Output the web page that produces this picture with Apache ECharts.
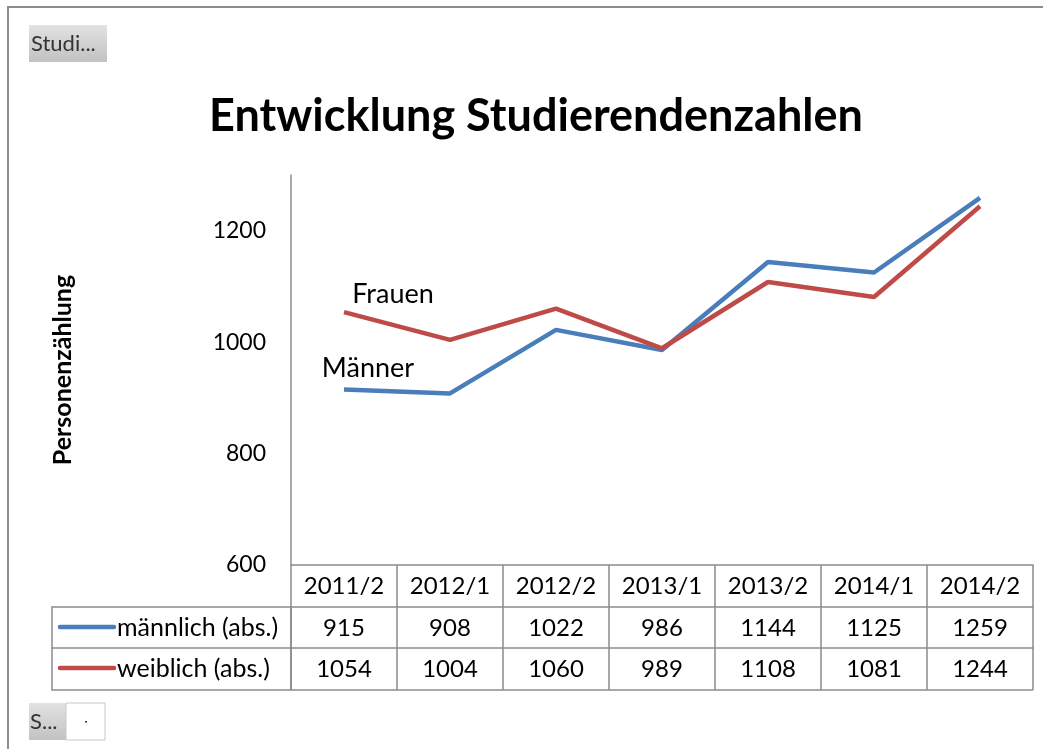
<!DOCTYPE html>
<html>
<head>
<meta charset="utf-8">
<script src="https://cdn.jsdelivr.net/npm/echarts@6/dist/echarts.min.js"></script>
<style>
  html, body { margin: 0; padding: 0; background: #fff; }
  #chart { width: 1053px; height: 749px; }
</style>
</head>
<body>
<div id="chart"></div>
<script>
// Daten
const semesters = ['2011/2', '2012/1', '2012/2', '2013/1', '2013/2', '2014/1', '2014/2'];
const maennlich = [915, 908, 1022, 986, 1144, 1125, 1259];
const weiblich = [1054, 1004, 1060, 989, 1108, 1081, 1244];
const seriesNames = ['männlich (abs.)', 'weiblich (abs.)'];
const lineLabels = ['Männer', 'Frauen'];

const FONT = 'Lato';
const GRAY = '#8c8c8c';
const BLUE = '#4a7ebb';
const RED = '#be4b48';

const chart = echarts.init(document.getElementById('chart'));

// erster Punkt bekommt den Beschriftungstext
function withLabel(values, text, offset) {
  return values.map((v, i) => i === 0 ? {
    value: v,
    label: { show: true, formatter: text, position: 'top', offset: offset, fontSize: 27, fontFamily: FONT, color: '#000' }
  } : v);
}

function tableAxis(data, offset, len) {
  return {
    type: 'category',
    position: 'bottom',
    offset: offset,
    data: data,
    boundaryGap: true,
    axisLine: { show: true, lineStyle: { color: GRAY, width: 1.5 } },
    axisTick: { show: true, interval: 0, length: len, lineStyle: { color: GRAY, width: 1.5 } },
    axisLabel: { interval: 0, margin: 9, fontSize: 24, fontFamily: FONT, color: '#000' }
  };
}

chart.setOption({
  animation: false,
  title: {
    text: 'Entwicklung Studierendenzahlen',
    left: 204,
    top: 89,
    textStyle: { fontSize: 45, fontWeight: 'bold', fontFamily: FONT, color: '#000' }
  },
  grid: { left: 291, right: 20, top: 175, bottom: 184 },
  xAxis: [
    tableAxis(semesters, 0, 42),
    tableAxis(maennlich.map(String), 42, 41),
    tableAxis(weiblich.map(String), 83, 42)
  ],
  yAxis: {
    type: 'value',
    min: 600,
    max: 1300,
    interval: 200,
    name: 'Personenzählung',
    nameLocation: 'middle',
    nameGap: 216,
    nameTextStyle: { fontSize: 25, fontWeight: 'bold', fontFamily: FONT, color: '#000' },
    axisLine: { show: true, lineStyle: { color: GRAY, width: 1.5 } },
    axisTick: { show: false },
    splitLine: { show: false },
    axisLabel: { showMaxLabel: false, formatter: v => String(v), margin: 25, fontSize: 23, fontFamily: FONT, color: '#000' }
  },
  series: [
    {
      name: seriesNames[0], type: 'line',
      data: withLabel(maennlich, lineLabels[0], [24, -3]),
      symbol: 'circle', symbolSize: 0,
      lineStyle: { color: BLUE, width: 4.5 },
      itemStyle: { color: BLUE }
    },
    {
      name: seriesNames[1], type: 'line',
      data: withLabel(weiblich, lineLabels[1], [49, 1]),
      symbol: 'circle', symbolSize: 0,
      lineStyle: { color: RED, width: 4.5 },
      itemStyle: { color: RED }
    }
  ],
  graphic: [
    // Rahmen
    { type: 'polyline', shape: { points: [[8, 749], [8, 7], [1043, 7]] }, style: { stroke: GRAY, lineWidth: 2, fill: null } },
    // Legendenspalte der Datentabelle
    { type: 'rect', shape: { x: 52, y: 607, width: 239, height: 83 }, style: { stroke: GRAY, lineWidth: 1.5, fill: null } },
    { type: 'line', shape: { x1: 52, y1: 648, x2: 291, y2: 648 }, style: { stroke: GRAY, lineWidth: 1.5 } },
    { type: 'line', shape: { x1: 291, y1: 690, x2: 1033, y2: 690 }, style: { stroke: GRAY, lineWidth: 1.5 } },
    { type: 'line', shape: { x1: 60, y1: 627, x2: 114, y2: 627 }, style: { stroke: BLUE, lineWidth: 4.5, lineCap: 'round' } },
    { type: 'line', shape: { x1: 60, y1: 668, x2: 114, y2: 668 }, style: { stroke: RED, lineWidth: 4.5, lineCap: 'round' } },
    { type: 'text', x: 117, y: 628, style: { text: seriesNames[0], font: '25px Lato', fill: '#000', textVerticalAlign: 'middle' } },
    { type: 'text', x: 117, y: 669, style: { text: seriesNames[1], font: '25px Lato', fill: '#000', textVerticalAlign: 'middle' } },
    // Schaltflächen
    { type: 'rect', shape: { x: 29, y: 25, width: 78, height: 37 },
      style: { fill: new echarts.graphic.LinearGradient(0, 0, 0, 1, [{ offset: 0, color: '#e2e2e2' }, { offset: 1, color: '#c2c2c2' }]) } },
    { type: 'text', x: 31, y: 44, style: { text: 'Studi...', font: '22px Lato', fill: '#333', textVerticalAlign: 'middle' } },
    { type: 'rect', shape: { x: 29, y: 703, width: 37, height: 37 },
      style: { fill: new echarts.graphic.LinearGradient(0, 0, 0, 1, [{ offset: 0, color: '#e2e2e2' }, { offset: 1, color: '#c2c2c2' }]) } },
    { type: 'rect', shape: { x: 66, y: 703, width: 39, height: 37 }, style: { fill: '#fff', stroke: '#c8c8c8', lineWidth: 1 } },
    { type: 'rect', shape: { x: 85, y: 721, width: 2, height: 1.5 }, style: { fill: '#333' } },
    { type: 'text', x: 30, y: 722, style: { text: 'S...', font: '22px Lato', fill: '#333', textVerticalAlign: 'middle' } }
  ]
});
</script>
</body>
</html>
